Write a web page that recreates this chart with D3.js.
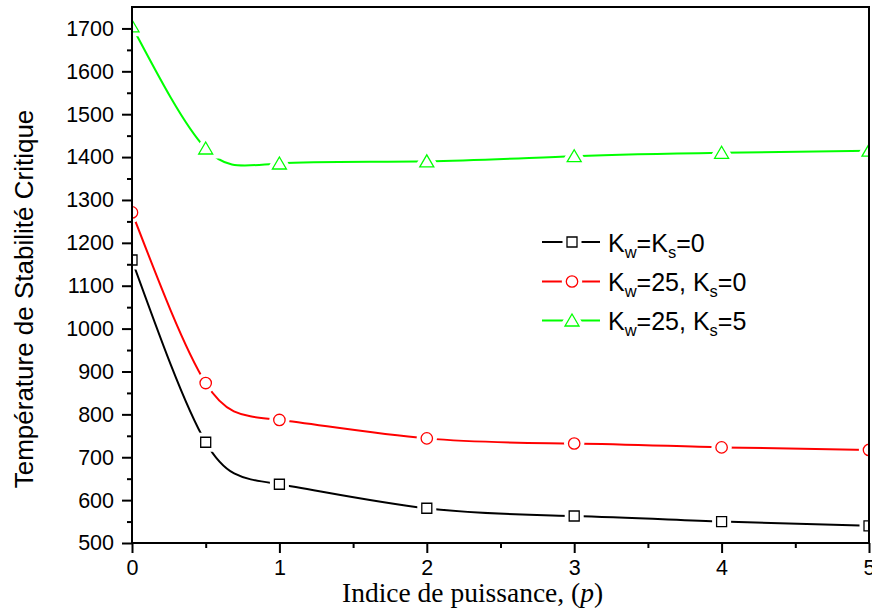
<!DOCTYPE html>
<html><head><meta charset="utf-8">
<script src="https://cdn.jsdelivr.net/npm/d3@7"></script>
<style>body{margin:0;background:#fff}svg{display:block}</style>
</head><body>
<script>
const pValues = [0, 0.5, 1, 2, 3, 4, 5];
const seriesNames = ["Kw=Ks=0", "Kw=25, Ks=0", "Kw=25, Ks=5"];
const blackValues = [1160, 735, 637, 581, 563, 550, 540];
const redValues = [1271, 873, 787, 744, 732, 723, 717];
const greenValues = [1705, 1420, 1385, 1390, 1402, 1410, 1415];
const xTicks = [0, 1, 2, 3, 4, 5];
const yTicks = [500, 600, 700, 800, 900, 1000, 1100, 1200, 1300, 1400, 1500, 1600, 1700];

const W = 872, H = 612;
const m = {left: 132, right: 869, top: 7, bottom: 543};
const svg = d3.select("body").append("svg").attr("width", W).attr("height", H);
const x = d3.scaleLinear().domain([0, 5]).range([m.left, m.right]);
const y = d3.scaleLinear().domain([500, 1750]).range([m.bottom, m.top]);

svg.append("clipPath").attr("id", "clip").append("rect")
  .attr("x", m.left).attr("y", m.top).attr("width", m.right - m.left).attr("height", m.bottom - m.top);

const series = [
  {name: seriesNames[0], values: blackValues, color: "#000000", shape: "square"},
  {name: seriesNames[1], values: redValues, color: "#ff0000", shape: "circle"},
  {name: seriesNames[2], values: greenValues, color: "#00ff00", shape: "triangle"}
];

function markerPath(shape) {
  if (shape === "square") return "M-5,-5h10v10h-10z";
  if (shape === "circle") return d3.symbol(d3.symbolCircle, Math.PI * 5.7 * 5.7)();
  return "M0,-6.5L7,5.5L-7,5.5Z";
}

const g = svg.append("g").attr("clip-path", "url(#clip)");
const line = d3.line().x((d, i) => x(pValues[i])).y(d => y(d)).curve(d3.curveNatural);
series.forEach(s => {
  g.append("path").attr("d", line(s.values)).attr("fill", "none")
    .attr("stroke", s.color).attr("stroke-width", 2);
});
series.forEach(s => {
  const mk = g.selectAll(null).data(s.values).enter().append("g")
    .attr("transform", (d, i) => `translate(${x(pValues[i])},${y(d)})`);
  mk.append("path").attr("d", markerPath(s.shape)).attr("fill", "#fff")
    .attr("stroke", "#fff").attr("stroke-width", 9);
  mk.append("path").attr("d", markerPath(s.shape)).attr("fill", "#fff")
    .attr("stroke", s.color).attr("stroke-width", 1.3);
});

// frame
svg.append("rect").attr("x", m.left).attr("y", m.top).attr("width", m.right - m.left)
  .attr("height", m.bottom - m.top).attr("fill", "none").attr("stroke", "#000").attr("stroke-width", 2);

// axes
const fontSans = "Arial, 'Liberation Sans', sans-serif";
svg.append("g").attr("transform", `translate(0,${m.bottom})`)
  .call(d3.axisBottom(x).tickValues(xTicks).tickFormat(d3.format("d")).tickSize(10).tickSizeOuter(0).tickPadding(7));
svg.append("g").attr("transform", `translate(0,${m.bottom})`)
  .call(d3.axisBottom(x).tickValues(d3.range(0.5, 5, 1)).tickFormat("").tickSize(5).tickSizeOuter(0));
svg.append("g").attr("transform", `translate(${m.left},0)`)
  .call(d3.axisLeft(y).tickValues(yTicks).tickFormat(d3.format("d")).tickSize(10).tickSizeOuter(0).tickPadding(8));
svg.append("g").attr("transform", `translate(${m.left},0)`)
  .call(d3.axisLeft(y).tickValues(d3.range(550, 1750, 100)).tickFormat("").tickSize(5).tickSizeOuter(0));
svg.selectAll(".domain").remove();
svg.selectAll(".tick line").attr("stroke", "#000").attr("stroke-width", 2);
svg.selectAll(".tick text").attr("font-family", fontSans).attr("font-size", 21.5).attr("fill", "#000");

// axis titles
const xt = svg.append("text").attr("x", 342).attr("y", 602)
  .attr("font-family", "'Times New Roman', 'Liberation Serif', serif").attr("font-size", 27.5).attr("fill", "#000");
xt.append("tspan").text("Indice de puissance, (");
xt.append("tspan").attr("font-style", "italic").text("p");
xt.append("tspan").text(")");

svg.append("text").attr("transform", "translate(33,299) rotate(-90)").attr("text-anchor", "middle")
  .attr("font-family", fontSans).attr("font-size", 26).attr("fill", "#000")
  .text("Température de Stabilité Critique");

// legend
const legendRows = [
  [["K", 0], ["w", 1], ["=K", 0], ["s", 1], ["=0", 0]],
  [["K", 0], ["w", 1], ["=25, K", 0], ["s", 1], ["=0", 0]],
  [["K", 0], ["w", 1], ["=25, K", 0], ["s", 1], ["=5", 0]]
];
const legY = [242, 281.5, 320.5];
series.forEach((s, i) => {
  const lg = svg.append("g").attr("transform", `translate(0,${legY[i]})`);
  lg.append("line").attr("x1", 542).attr("x2", 600).attr("stroke", s.color).attr("stroke-width", 2);
  lg.append("path").attr("transform", "translate(572,0)").attr("d", markerPath(s.shape))
    .attr("fill", "#fff").attr("stroke", "#fff").attr("stroke-width", 9);
  lg.append("path").attr("transform", "translate(572,0)").attr("d", markerPath(s.shape))
    .attr("fill", "#fff").attr("stroke", s.color).attr("stroke-width", 1.3);
  const t = lg.append("text").attr("x", 608).attr("y", 9.5)
    .attr("font-family", fontSans).attr("font-size", 25).attr("fill", "#000");
  let prevSub = 0;
  legendRows[i].forEach(([txt, sub]) => {
    const ts = t.append("tspan").text(txt);
    if (sub) ts.attr("font-size", 16.5).attr("dy", 6);
    else if (prevSub) ts.attr("dy", -6);
    prevSub = sub;
  });
});
</script>
</body></html>
